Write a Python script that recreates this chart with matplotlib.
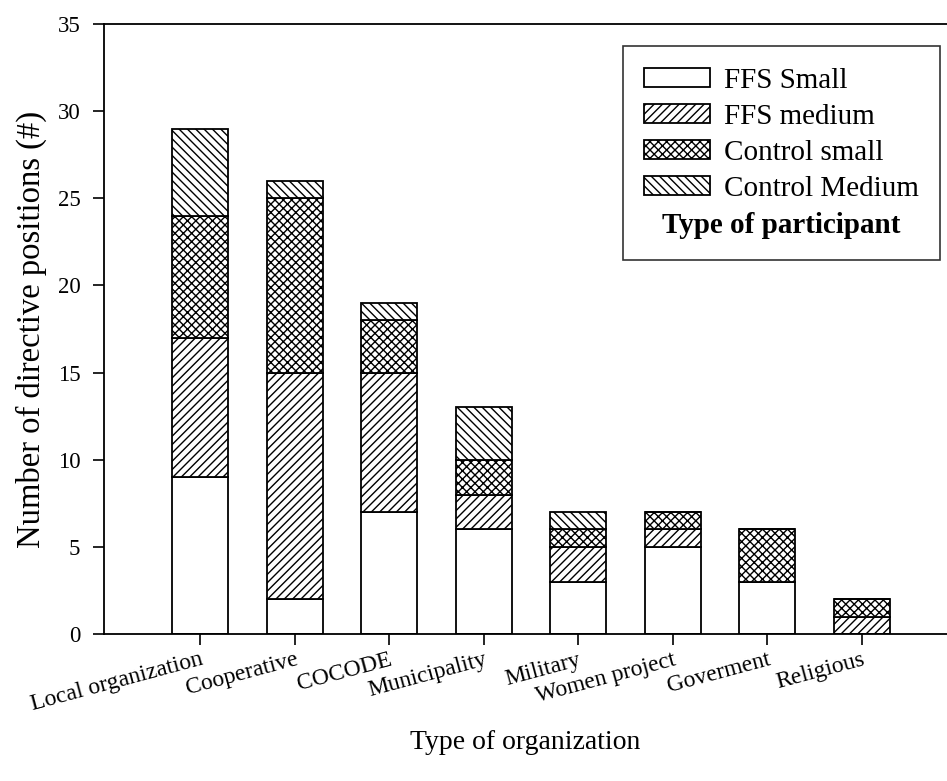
import matplotlib
matplotlib.use("Agg")
import matplotlib.pyplot as plt
import numpy as np

plt.rcParams['font.family'] = ['Liberation Serif', 'DejaVu Serif']
plt.rcParams['hatch.linewidth'] = 1.0

organizations = ['Local organization', 'Cooperative', 'COCODE', 'Municipality',
                 'Military', 'Women project', 'Goverment', 'Religious']
ffs_small = [9, 2, 7, 6, 3, 5, 3, 0]
ffs_medium = [8, 13, 8, 2, 2, 1, 0, 1]
control_small = [7, 10, 3, 2, 1, 1, 3, 1]
control_medium = [5, 1, 1, 3, 1, 0, 0, 0]

series = [('FFS Small', ffs_small, ''),
          ('FFS medium', ffs_medium, '////'),
          ('Control small', control_small, 'xxxx'),
          ('Control Medium', control_medium, '\\\\\\\\')]

fig = plt.figure(figsize=(9.47, 7.81), dpi=100)
ax = fig.add_axes([104/947, 1-634/781, 843/947, 610/781])

x = np.arange(len(organizations))
bottom = np.zeros(len(organizations))
handles = []
for name, vals, hatch in series:
    b = ax.bar(x, vals, 0.59, bottom=bottom, color='white', edgecolor='black',
               linewidth=1.3, hatch=hatch, label=name)
    handles.append(b)
    bottom += np.array(vals)

ax.set_xlim(-1.016, 7.9)
ax.set_ylim(0, 35)
ax.set_yticks(range(0, 36, 5))
ax.set_xticks(x)
ax.set_xticklabels(organizations, rotation=15, ha='right', va='top',
                   rotation_mode='anchor', fontsize=17)
ax.tick_params(axis='y', labelsize=16.5, direction='out', length=8, width=1.2, pad=9)
ax.tick_params(axis='x', direction='out', length=8, width=1.2, pad=3)
ax.spines['right'].set_visible(False)
for s in ['left', 'top', 'bottom']:
    ax.spines[s].set_linewidth(1.3)

ax.set_ylabel('Number of directive positions (#)', fontsize=23.5, labelpad=8)
ax.set_xlabel('Type of organization', fontsize=20)
ax.xaxis.set_label_coords(0.5, -0.158)

leg = ax.legend(handles=handles, loc='upper right', bbox_to_anchor=(0.992, 0.964),
                borderaxespad=0, fancybox=False, edgecolor='black', fontsize=21,
                title='Type of participant', handlelength=2.26, handleheight=0.62,
                labelspacing=0.34, borderpad=0.75, handletextpad=0.45)
leg.get_frame().set_linewidth(1.2)
leg.get_title().set_fontsize(21)
leg.get_title().set_fontweight('bold')
# put the title under the entries, as in the original
leg._legend_box.get_children().reverse()

fig.savefig('out.png', dpi=100)
